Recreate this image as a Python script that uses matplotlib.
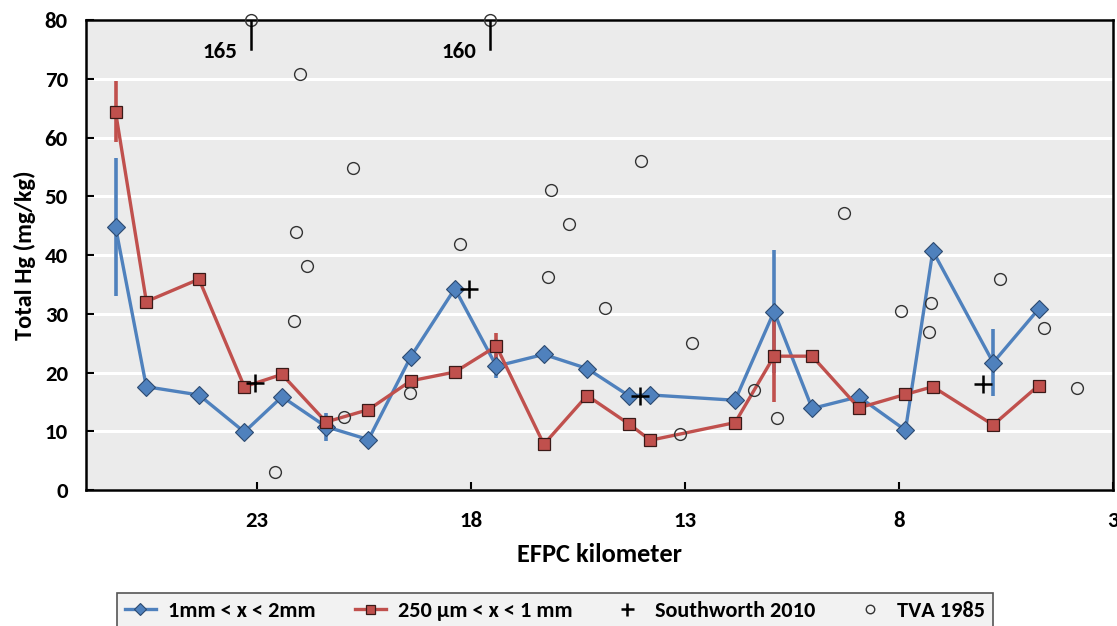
import numpy as np
import matplotlib.pyplot as plt

plt.rcParams['font.family'] = ['Carlito', 'Lato', 'DejaVu Sans']
plt.rcParams['font.weight'] = 'bold'
plt.rcParams['axes.labelweight'] = 'bold'

# sample locations (EFPC km)
km = np.array([26.31, 25.59, 24.36, 23.30, 22.42, 21.39, 20.40, 19.41, 18.38,
               17.41, 16.30, 15.29, 14.32, 13.81, 11.83, 10.92, 10.03, 8.94,
               7.85, 7.21, 5.80, 4.74])

# 1mm < x < 2mm
hg_coarse = np.array([44.8, 17.6, 16.2, 9.9, 15.9, 10.8, 8.6, 22.7, 34.3,
                      21.1, 23.1, 20.7, 16.1, 16.2, 15.3, 30.4, 13.9, 15.9,
                      10.2, 40.7, 21.7, 30.8])
err_coarse = np.array([11.8, 0, 0, 0, 0, 2.4, 0, 0, 0, 2.0, 0, 0, 0, 0, 0,
                       10.4, 0, 0, 0, 0, 5.7, 0])

# 250 um < x < 1 mm
hg_fine = np.array([64.4, 32.1, 35.9, 17.6, 19.7, 11.6, 13.7, 18.6, 20.1,
                    24.5, 7.8, 16.1, 11.3, 8.5, 11.5, 22.8, 22.8, 14.0,
                    16.3, 17.6, 11.1, 17.8])
err_fine = np.array([5.2, 0, 0, 0, 0, 0, 0, 0, 0, 2.3, 0, 0, 0, 0, 0,
                     7.8, 0, 0, 0, 0, 1.0, 0])

# Southworth 2010
sw_km = np.array([23.04, 18.05, 14.06, 6.04])
sw_hg = np.array([18.3, 34.3, 16.1, 18.0])

# TVA 1985
tva_km = np.array([23.14, 17.56, 22.00, 20.75, 22.09, 21.84, 22.13, 22.59,
                   20.96, 14.04, 16.14, 15.71, 18.25, 16.20, 14.86, 12.84,
                   19.42, 13.11, 11.38, 10.86, 7.95, 7.26, 7.30, 5.65, 4.62,
                   3.85, 9.28])
tva_hg = np.array([165, 160, 70.8, 54.9, 43.9, 38.1, 28.8, 3.1, 12.5, 56.0,
                   51.0, 45.3, 41.9, 36.3, 31.0, 25.1, 16.5, 9.6, 17.1, 12.2,
                   30.5, 31.9, 26.9, 35.9, 27.6, 17.4, 47.2])

ymax = 80
blue = '#4F81BD'
red = '#C0504D'

fig = plt.figure(figsize=(11.17, 6.26), dpi=100)
ax = fig.add_axes([0.077, 0.217, 0.9194, 0.751])
ax.set_facecolor('#EBEBEB')

ax.set_xlim(27, 3)
ax.set_ylim(0, ymax)
ax.set_xticks([23, 18, 13, 8, 3])
ax.set_yticks(np.arange(0, 81, 10))
ax.grid(axis='y', color='white', lw=2.2)
ax.set_axisbelow(True)
ax.tick_params(direction='in', length=6, width=1.5, labelsize=16.5)
ax.tick_params(axis='y', pad=13)
ax.tick_params(axis='x', pad=15)
for s in ax.spines.values():
    s.set_linewidth(1.8)

m = err_coarse > 0
ax.errorbar(km[m], hg_coarse[m], yerr=err_coarse[m], fmt='none',
            ecolor=blue, elinewidth=2.6, capsize=0, zorder=2)
m = err_fine > 0
ax.errorbar(km[m], hg_fine[m], yerr=err_fine[m], fmt='none',
            ecolor=red, elinewidth=2.6, capsize=0, zorder=2)

ax.plot(km, hg_coarse, color=blue, lw=2.4, marker='D', ms=8.8,
        mfc=blue, mec='#2C4A70', mew=0.8, label='1mm < x < 2mm', zorder=3)
ax.plot(km, hg_fine, color=red, lw=2.4, marker='s', ms=9,
        mfc=red, mec='#3A1A18', mew=0.9, label='250 µm < x < 1 mm', zorder=4)
ax.plot(sw_km, sw_hg, ls='none', marker='+', ms=13, mew=1.8,
        color='black', label='Southworth 2010', zorder=5)

tva_plot = np.minimum(tva_hg, ymax)
ax.plot(tva_km, tva_plot, ls='none', marker='o', ms=8.5, mfc='none',
        mec='#333333', mew=1.0, label='TVA 1985', zorder=5, clip_on=False)

# off-scale TVA values
for k, v in zip(tva_km, tva_hg):
    if v > ymax:
        ax.plot([k, k], [ymax, ymax - 5], color='black', lw=1.8, zorder=5)
        ax.annotate(str(int(v)), (k, ymax), xytext=(-10, -23),
                    textcoords='offset points', ha='right', va='center',
                    fontsize=16.5, fontweight='bold')

ax.set_ylabel('Total Hg (mg/kg)', fontsize=17.5, labelpad=6)
ax.set_xlabel('EFPC kilometer', fontsize=19, labelpad=9)

leg = ax.legend(loc='center', bbox_to_anchor=(0.497, 0.024),
                bbox_transform=fig.transFigure, ncol=4, fontsize=16,
                frameon=True, fancybox=False, edgecolor='#555555',
                facecolor='#F2F2F2', handlelength=1.4, handletextpad=0.55,
                columnspacing=1.75, borderpad=0.35, markerscale=0.72)
leg.get_frame().set_linewidth(1.2)
leg.get_frame().set_alpha(1)

fig.savefig('out.png', dpi=100)
